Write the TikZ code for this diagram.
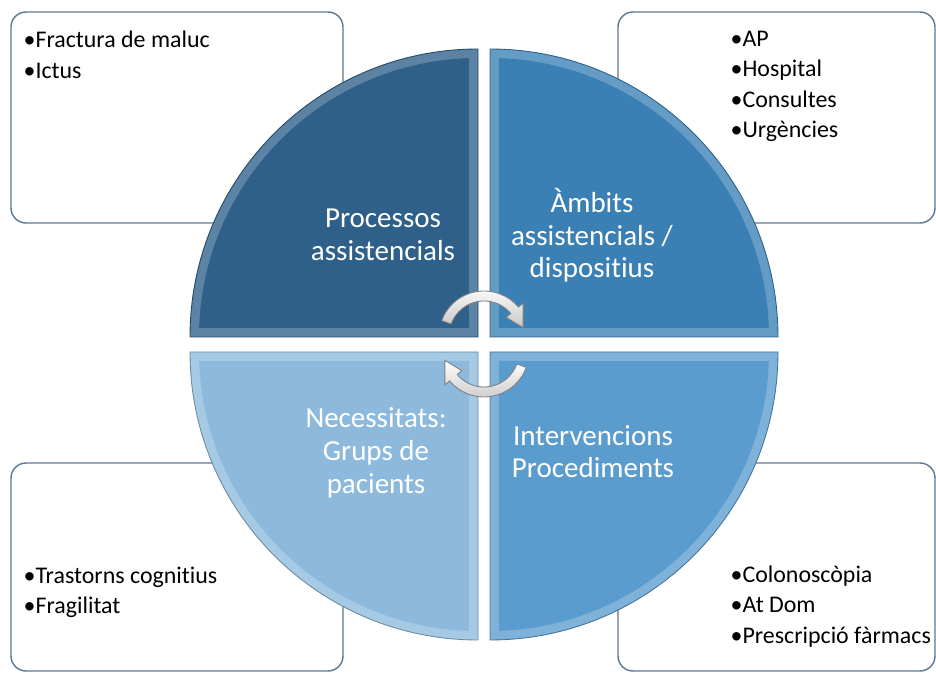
\documentclass[tikz,border=0pt]{standalone}
\usepackage{fontspec}
\setmainfont{Carlito}[RawFeature={-liga;-clig;-calt;-dlig}]
\usepackage{tikz}
\usetikzlibrary{calc,positioning}
\definecolor{qdark}{RGB}{46,96,137}
\definecolor{qmid}{RGB}{58,128,181}
\definecolor{qlight}{RGB}{91,156,206}
\definecolor{qpale}{RGB}{141,186,220}
\definecolor{boxline}{RGB}{90,120,148}

\begin{document}
\begin{tikzpicture}

\tikzset{listbox/.style={draw=boxline,line width=0.8pt,fill=white,rounded corners=0.3cm,minimum width=6.64cm,minimum height=4.22cm,inner sep=0pt},
listtext/.style={font=\fontsize{13.6}{17.3}\selectfont,align=left,inner sep=0pt},
quadtext/.style={font=\fontsize{16.5}{18.6}\selectfont,text=white,align=center,inner sep=0pt},
cyclearrow/.style={top color=white,bottom color=black!22,draw=black!50,line width=0.5pt}}

\useasboundingbox (0,0) rectangle (18.72,-13.46);

% list boxes
\node[listbox] (boxTL) at (3.54,-2.35) {};
\node[listbox,minimum width=6.34cm] (boxTR) at (15.53,-2.35) {};
\node[listbox,minimum height=4.16cm] (boxBL) at (3.54,-11.34) {};
\node[listbox,minimum width=6.34cm,minimum height=4.16cm] (boxBR) at (15.53,-11.34) {};

% quadrants (light rim, then inset fill)
\foreach \cx/\cy/\a/\col in {9.56/-6.74/90/qdark, 9.80/-6.74/0/qmid, 9.80/-7.04/270/qlight, 9.56/-7.04/180/qpale} {
  \filldraw[fill=\col!78!white,draw=\col!75!black,line width=0.5pt] (\cx,\cy) -- ++(\a:5.76) arc[start angle=\a, delta angle=90, radius=5.76] -- cycle;
  \fill[\col] ($(\cx,\cy)+(\a:0.18)+(\a+90:0.18)$) -- ($(\cx,\cy)+(\a+1.86:5.58)$) arc[start angle=\a+1.86, end angle=\a+88.14, radius=5.58] -- cycle;
}

% cycle arrows
\coordinate (cycU) at (9.68,-6.72);
\coordinate (cycL) at (9.68,-7.04);
\draw[cyclearrow] ($(cycU)+(160:0.9)$) arc[start angle=160, end angle=40, radius=0.9] -- ($(cycU)+(40:1.02)$) -- ($(cycU)+(12:0.8)$) -- ($(cycU)+(40:0.58)$) -- ($(cycU)+(40:0.7)$) arc[start angle=40, end angle=160, radius=0.7] -- cycle;
\draw[cyclearrow] ($(cycL)+(-20:0.9)$) arc[start angle=-20, end angle=-140, radius=0.9] -- ($(cycL)+(-140:1.02)$) -- ($(cycL)+(-168:0.8)$) -- ($(cycL)+(-140:0.58)$) -- ($(cycL)+(-140:0.7)$) arc[start angle=-140, end angle=-20, radius=0.7] -- cycle;

% quadrant labels
\node[quadtext] (procTL) at (7.66,-4.70) {Processos\\assistencials};
\node[quadtext] (ambitTR) at (11.84,-4.71) {Àmbits\\assistencials /\\dispositius};
\node[quadtext] (necesBL) at (7.52,-9.06) {Necessitats:\\Grups de\\pacients};
\node[quadtext] (intervBR) at (11.86,-9.03) {Intervencions\\Procediments};

% bullet lists
\node[listtext,below right=0.39cm and 0.26cm of boxTL.north west] (listTL) {•Fractura de maluc\\•Ictus};
\node[listtext,below right=0.39cm and 2.26cm of boxTR.north west] (listTR) {•AP\\•Hospital\\•Consultes\\•Urgències};
\node[listtext,below right=2.08cm and 0.26cm of boxBL.north west] (listBL) {•Trastorns cognitius\\•Fragilitat};
\node[listtext,below right=2.06cm and 2.26cm of boxBR.north west] (listBR) {•Colonoscòpia\\•At Dom\\•Prescripció fàrmacs};

\end{tikzpicture}
\end{document}
